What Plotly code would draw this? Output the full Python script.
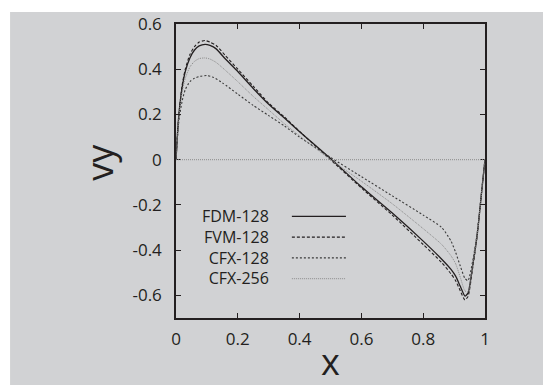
import plotly.graph_objects as go

# ---- data ----
x_fdm = [0, 0.005, 0.01, 0.02, 0.03, 0.045, 0.06, 0.075, 0.094, 0.11, 0.13, 0.16, 0.2, 0.25, 0.3, 0.35, 0.4, 0.5, 0.6, 0.7, 0.8, 0.86, 0.89, 0.905, 0.92, 0.935, 0.945, 0.96, 0.975, 0.99, 1.0]
vy_fdm = [0, 0.12, 0.21, 0.32, 0.39, 0.45, 0.485, 0.503, 0.510, 0.505, 0.49, 0.445, 0.39, 0.315, 0.245, 0.185, 0.124, 0.005, -0.12, -0.236, -0.36, -0.44, -0.485, -0.515, -0.56, -0.603, -0.59, -0.47, -0.33, -0.13, 0]

x_fvm = [0, 0.005, 0.01, 0.02, 0.03, 0.045, 0.06, 0.075, 0.094, 0.11, 0.13, 0.16, 0.2, 0.25, 0.3, 0.35, 0.4, 0.5, 0.6, 0.7, 0.8, 0.86, 0.89, 0.905, 0.92, 0.935, 0.945, 0.96, 0.975, 0.99, 1.0]
vy_fvm = [0, 0.12, 0.21, 0.33, 0.40, 0.465, 0.50, 0.52, 0.527, 0.52, 0.505, 0.46, 0.40, 0.325, 0.25, 0.19, 0.125, 0.0, -0.125, -0.245, -0.375, -0.455, -0.505, -0.535, -0.58, -0.62, -0.605, -0.48, -0.33, -0.13, 0]

x_cfx128 = [0, 0.005, 0.01, 0.02, 0.03, 0.045, 0.06, 0.075, 0.1, 0.12, 0.15, 0.2, 0.25, 0.3, 0.35, 0.4, 0.5, 0.6, 0.7, 0.8, 0.86, 0.89, 0.905, 0.92, 0.935, 0.945, 0.96, 0.975, 0.99, 1.0]
vy_cfx128 = [0, 0.10, 0.18, 0.26, 0.31, 0.345, 0.36, 0.368, 0.372, 0.365, 0.34, 0.29, 0.24, 0.195, 0.15, 0.10, 0.01, -0.075, -0.16, -0.245, -0.30, -0.36, -0.41, -0.47, -0.525, -0.535, -0.45, -0.32, -0.13, 0]

x_cfx256 = [0, 0.005, 0.01, 0.02, 0.03, 0.045, 0.06, 0.075, 0.094, 0.11, 0.13, 0.16, 0.2, 0.25, 0.3, 0.35, 0.4, 0.5, 0.6, 0.7, 0.8, 0.86, 0.89, 0.905, 0.92, 0.935, 0.945, 0.96, 0.975, 0.99, 1.0]
vy_cfx256 = [0, 0.11, 0.20, 0.30, 0.36, 0.41, 0.435, 0.447, 0.45, 0.445, 0.43, 0.395, 0.345, 0.28, 0.22, 0.16, 0.105, 0.0, -0.095, -0.195, -0.305, -0.375, -0.425, -0.46, -0.52, -0.58, -0.585, -0.47, -0.33, -0.13, 0]

series_names = ["FDM-128", "FVM-128", "CFX-128", "CFX-256"]
x_ticks = [0, 0.2, 0.4, 0.6, 0.8, 1]
x_tick_labels = ["0", "0.2", "0.4", "0.6", "0.8", "1"]
y_ticks = [-0.6, -0.4, -0.2, 0, 0.2, 0.4, 0.6]
y_tick_labels = ["-0.6", "-0.4", "-0.2", "0", "0.2", "0.4", "0.6"]
x_title = "x"
y_title = "vy"

# ---- styles ----
styles = [
    dict(color="#231f20", width=1.3, dash="solid"),
    dict(color="#231f20", width=1.1, dash="3px,2px"),
    dict(color="#3a3a3a", width=1.1, dash="2px,2px"),
    dict(color="#8a8a8a", width=1.0, dash="1px,1px"),
]
xs = [x_fdm, x_fvm, x_cfx128, x_cfx256]
ys = [vy_fdm, vy_fvm, vy_cfx128, vy_cfx256]

fig = go.Figure()
for name, xv, yv, st in zip(series_names, xs, ys, styles):
    fig.add_trace(go.Scatter(x=xv, y=yv, mode="lines", name=name,
                             line=dict(shape="spline", smoothing=0.6, **st), showlegend=False))

BG = "#d1d2d4"
TXT = "#231f20"
font_fam = "Open Sans, Noto Sans, sans-serif"

shapes = [
    # gray panel background
    dict(type="rect", xref="paper", yref="paper", x0=-0.537, x1=1.25, y0=-0.25, y1=1.041,
         fillcolor=BG, line=dict(width=0), layer="below"),
    # zero axis
    dict(type="line", xref="paper", yref="y", x0=0, x1=1, y0=0, y1=0,
         line=dict(color="#8a8a8a", width=1, dash="1px,1px")),
]

# gnuplot-style key: names right-aligned, line samples to the right
LEG_FONT = 16
row_step = LEG_FONT * 1.3 / 294.0
leg_center = 0.2398
leg_rows = [leg_center + (1.5 - i) * row_step for i in range(len(series_names))]
annotations = [
    dict(xref="paper", yref="paper", x=0.304, y=leg_center, text="<br>".join(series_names),
         showarrow=False, xanchor="right", yanchor="middle", align="right", borderpad=0,
         font=dict(size=LEG_FONT, color=TXT, family=font_fam)),
    # axis titles
    dict(xref="paper", yref="paper", x=0.5, y=-0.148, text=x_title, showarrow=False,
         xanchor="center", yanchor="middle", borderpad=0, font=dict(size=36, color=TXT, family=font_fam)),
    dict(xref="paper", yref="paper", x=-0.248, y=0.529, text=y_title, showarrow=False, textangle=-90,
         xanchor="center", yanchor="middle", font=dict(size=36, color=TXT, family=font_fam)),
]
for st, yr in zip(styles, leg_rows):
    shapes.append(dict(type="line", xref="paper", yref="paper", x0=0.375, x1=0.550, y0=yr, y1=yr,
                       line=dict(color=st["color"], width=st["width"], dash=st["dash"])))

# page body has an 8px default margin; figure sized to fit the 551x385 window
fig.update_layout(
    width=543, height=377,
    margin=dict(l=168, r=66, t=16, b=67, autoexpand=False),
    paper_bgcolor="white", plot_bgcolor=BG,
    shapes=shapes, annotations=annotations,
    font=dict(family=font_fam, color=TXT, size=17),
    xaxis=dict(range=[0, 1], tickvals=x_ticks, ticktext=x_tick_labels, ticks="inside", ticklen=5,
               tickcolor=TXT, showline=True, linecolor=TXT, linewidth=1.5, mirror="ticks",
               showgrid=False, zeroline=False, ticklabelstandoff=5, automargin=False,
               tickfont=dict(size=17)),
    yaxis=dict(range=[-0.7, 0.6], tickvals=y_ticks, ticktext=y_tick_labels, ticks="inside", ticklen=5,
               tickcolor=TXT, showline=True, linecolor=TXT, linewidth=1.5, mirror="ticks",
               showgrid=False, zeroline=False, ticklabelstandoff=9, automargin=False,
               tickfont=dict(size=17)),
)

fig.write_html("out.html")
